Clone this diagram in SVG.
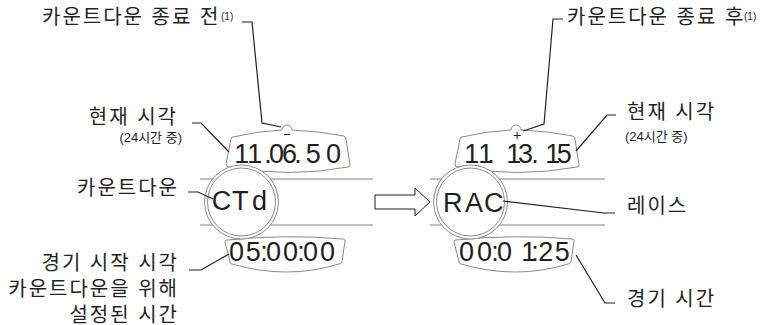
<svg xmlns="http://www.w3.org/2000/svg" width="765" height="325" viewBox="0 0 765 325">
<style>
.lbl{font-family:"Liberation Sans","Noto Sans CJK KR",sans-serif;font-size:20px;fill:#231f20;letter-spacing:2px}
.sm{font-family:"Liberation Sans","Noto Sans CJK KR",sans-serif;font-size:13px;fill:#231f20}
.sup{font-family:"Liberation Sans",sans-serif;font-size:10px;fill:#231f20}
.lcd{font-family:"Liberation Sans",sans-serif;font-size:27px;fill:#231f20}
.disp{fill:#fff;stroke:#8a8a8a;stroke-width:1}
.ring{fill:#fff;stroke:#8a8a8a;stroke-width:1}
.band{stroke:#a8a8a8;stroke-width:1.5;fill:none}
.lead{stroke:#231f20;stroke-width:1.2;fill:none}
</style>
<g id="bands">
<line class="band" x1="200" y1="179" x2="373" y2="179"/>
<line class="band" x1="200" y1="225" x2="373" y2="225"/>
<line class="band" x1="430" y1="179" x2="605" y2="179"/>
<line class="band" x1="430" y1="225" x2="605" y2="225"/>
</g>
<g id="watch-before">
<path class="disp" d="M233,137 Q258,131 282,130 A5,5 0 0 1 292,130 Q318,131 344,136 Q346,137 346,139 L350,165 Q350,167 348,167 Q289,178 229,167 Q226,167 226,164 L231,139 Q231,137 233,137 Z"/>
<text class="sm" x="287" y="139" text-anchor="middle" style="font-size:13px">−</text>
<text class="lcd" y="162.5"><tspan x="234.2">1</tspan><tspan x="247.2">1</tspan><tspan x="264.2">.</tspan><tspan x="269">0</tspan><tspan x="282">6</tspan><tspan x="294.2">.</tspan><tspan x="305.7">5</tspan><tspan x="326">0</tspan></text>
<path class="disp" d="M227,240 Q286,234 343,239 Q345,239 345,241 L342,262 Q341,264 339,264 Q287,280 232,264 Q230,264 230,262 L225,242 Q225,240 227,240 Z"/>
<text class="lcd" y="261"><tspan x="229">0</tspan><tspan x="245.7">5</tspan><tspan x="260.2">:</tspan><tspan x="266">0</tspan><tspan x="283">0</tspan><tspan x="297.2">:</tspan><tspan x="303">0</tspan><tspan x="320">0</tspan></text>
<circle class="ring" cx="241.5" cy="202" r="37"/>
<circle class="ring" cx="241.5" cy="202" r="34"/>
<text class="lcd" y="210"><tspan x="211.7">C</tspan><tspan x="232">T</tspan><tspan x="252">d</tspan></text>
</g>
<g id="arrow">
<polygon points="375,195 415,195 415,188 430,202 415,216 415,209 375,209" fill="#fff" stroke="#231f20" stroke-width="1"/>
</g>
<g id="watch-after">
<path class="disp" d="M462,137 Q487,131 511,130 A5,5 0 0 1 521,130 Q547,131 573,136 Q575,137 575,139 L579,165 Q579,167 577,167 Q518,178 458,167 Q455,167 455,164 L460,139 Q460,137 462,137 Z"/>
<text class="sm" x="517" y="140" text-anchor="middle" style="font-size:14px">+</text>
<text class="lcd" y="162.5"><tspan x="464.2">1</tspan><tspan x="478.2">1</tspan><tspan x="487.2">.</tspan><tspan x="506.2">1</tspan><tspan x="518">3</tspan><tspan x="531.2">.</tspan><tspan x="545.2">1</tspan><tspan x="556.7">5</tspan></text>
<path class="disp" d="M456,240 Q515,234 572,239 Q574,239 574,241 L571,262 Q570,264 568,264 Q516,280 461,264 Q459,264 459,262 L454,242 Q454,240 456,240 Z"/>
<text class="lcd" y="261"><tspan x="459">0</tspan><tspan x="477">0</tspan><tspan x="491.2">:</tspan><tspan x="497">0</tspan><tspan x="521.2">1</tspan><tspan x="531.2">:</tspan><tspan x="538.2">2</tspan><tspan x="554.7">5</tspan></text>
<circle class="ring" cx="470.5" cy="202" r="37"/>
<circle class="ring" cx="470.5" cy="202" r="34"/>
<text class="lcd" y="212"><tspan x="443">R</tspan><tspan x="465">A</tspan><tspan x="484">C</tspan></text>
</g>
<g id="connectors">
<path class="lead" d="M242,22 H252 L262,123 L281,127"/>
<path class="lead" d="M192,123 H201 L229,152"/>
<path class="lead" d="M188,192 H198 L213,199"/>
<path class="lead" d="M189,270 H201 L229,254"/>
<path class="lead" d="M563,19 H553 L544,124 L523,131"/>
<path class="lead" d="M616,115 H607 L576,151"/>
<path class="lead" d="M503,201 L604,213 H615"/>
<path class="lead" d="M576,255 L605,303 H615"/>
</g>
<g id="label-before">
<text class="lbl" x="42" y="23.5">카운트다운 종료 전</text>
<text class="sup" x="221" y="20">(1)</text>
</g>
<g id="label-after">
<text class="lbl" x="567" y="23.5">카운트다운 종료 후</text>
<text class="sup" x="744" y="20">(1)</text>
</g>
<g id="label-time-left">
<text class="lbl" x="178" y="124" text-anchor="end">현재 시각</text>
<text class="sm" x="182" y="142" text-anchor="end">(24시간 중)</text>
</g>
<g id="label-countdown">
<text class="lbl" x="179" y="195" text-anchor="end">카운트다운</text>
</g>
<g id="label-start">
<text class="lbl" x="179" y="270" text-anchor="end">경기 시작 시각</text>
<text class="lbl" x="179" y="296" text-anchor="end">카운트다운을 위해</text>
<text class="lbl" x="179" y="321.5" text-anchor="end">설정된 시간</text>
</g>
<g id="label-time-right">
<text class="lbl" x="627" y="119">현재 시각</text>
<text class="sm" x="625" y="141">(24시간 중)</text>
</g>
<g id="label-race">
<text class="lbl" x="627" y="213">레이스</text>
</g>
<g id="label-elapsed">
<text class="lbl" x="627" y="306">경기 시간</text>
</g>
</svg>
